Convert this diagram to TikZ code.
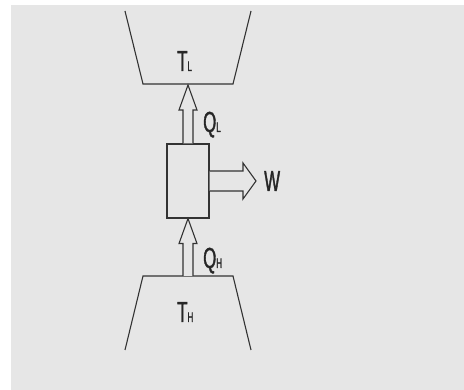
\documentclass[tikz,border=0pt]{standalone}
\usepackage{fontspec}
\usetikzlibrary{calc}
\newfontfamily\narrowfont[FakeStretch=0.58,FakeBold=1.2]{Liberation Sans}
\definecolor{bggray}{HTML}{E6E6E6}
\definecolor{ink}{HTML}{333333}
\newcommand{\bigtxt}{\narrowfont\fontsize{29}{29}\selectfont}
\newcommand{\subtxt}[1]{{\fontsize{14}{14}\selectfont #1}}
\begin{document}
\begin{tikzpicture}[x=1pt,y=-1pt,
  wall/.style={draw=ink,line width=1.1pt},
  hollow/.style={draw=ink,line width=1.1pt,fill=bggray,line join=miter},
  lbl/.style={inner sep=0pt,anchor=base west,text=black!85,font=\bigtxt},
  enginebox/.style={draw=ink,line width=1.1pt,fill=bggray,minimum width=42pt,minimum height=74pt,inner sep=0pt}]
\useasboundingbox (0,0) rectangle (464,390);
\fill[bggray] (11,5) rectangle (464,390);
% reservoirs
\coordinate (cold) at (188,84);
\coordinate (hot) at (188,276);
\draw[wall] (125,11) -- (143,84) -- (233,84) -- (251,11);
\draw[wall] (125,350) -- (143,276) -- (233,276) -- (251,350);
% engine
\node[enginebox] (engine) at (188,181) {};
% Q_L arrow (engine -> cold)
\draw[hollow] ($(engine.north)+(-5,0)$) -- ($(cold)+(-5,26)$) -- ($(cold)+(-9,26)$) -- ($(cold)+(0,1)$)
  -- ($(cold)+(9,26)$) -- ($(cold)+(5,26)$) -- ($(engine.north)+(5,0)$);
% Q_H arrow (hot -> engine)
\draw[hollow] ($(hot)+(-5,0)$) -- ($(engine.south)+(-5,25)$) -- ($(engine.south)+(-9,25)$) -- (engine.south)
  -- ($(engine.south)+(9,25)$) -- ($(engine.south)+(5,25)$) -- ($(hot)+(5,0)$);
% W arrow
\coordinate (wtip) at (256,181);
\draw[hollow] ($(engine.east)+(0,-10)$) -- ($(wtip)+(-13,-10)$) -- ($(wtip)+(-13,-18)$) -- (wtip)
  -- ($(wtip)+(-13,18)$) -- ($(wtip)+(-13,10)$) -- ($(engine.east)+(0,10)$);
% labels
\node[lbl] (tl) at (177,71) {T\subtxt{L}};
\node[lbl] (ql) at (203,132) {Q\subtxt{L}};
\node[lbl] (w) at (264,191) {W};
\node[lbl] (qh) at (203,268) {Q\subtxt{H}};
\node[lbl] (th) at (177,322) {T\subtxt{H}};
\end{tikzpicture}
\end{document}
